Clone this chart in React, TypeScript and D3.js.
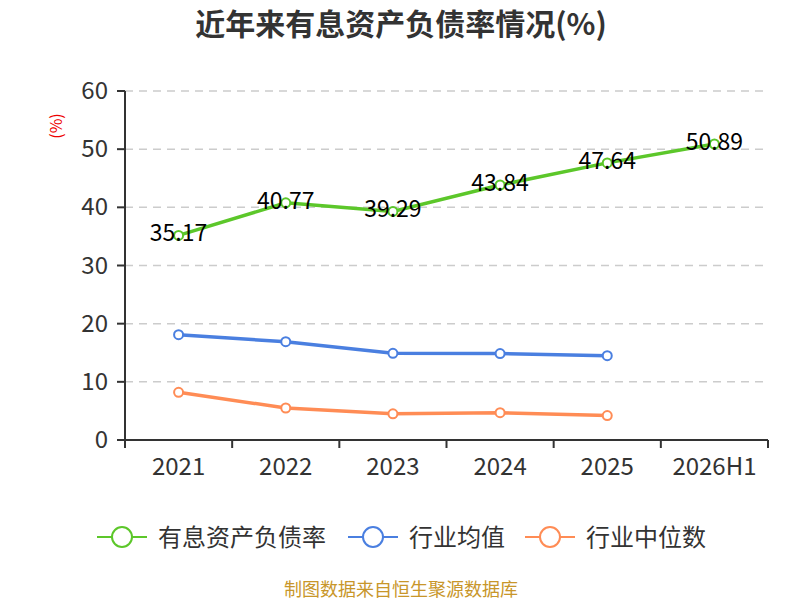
import React from "react";
import * as d3 from "d3";

const categories = ["2021", "2022", "2023", "2024", "2025", "2026H1"];
const debtRatio = [35.17, 40.77, 39.29, 43.84, 47.64, 50.89];
const industryMean = [18.1, 16.9, 14.9, 14.85, 14.5];
const industryMedian = [8.2, 5.5, 4.5, 4.7, 4.2];
const yTicks = [0, 10, 20, 30, 40, 50, 60];

const seriesNames = ["有息资产负债率", "行业均值", "行业中位数"];
const colors = ["#5cc72a", "#4a7fe0", "#ff8c55"];

const W = 800;
const H = 600;
const left = 125;
const right = 768;
const top = 91;
const bottom = 440;

export default function App() {
  const x = d3.scaleBand<string>().domain(categories).range([left, right]);
  const y = d3.scaleLinear().domain([0, 60]).range([bottom, top]);
  const cx = (i: number) => (x(categories[i]) ?? 0) + x.bandwidth() / 2;
  const line = d3
    .line<number>()
    .x((_, i) => cx(i))
    .y((d) => y(d));

  const series = [debtRatio, industryMean, industryMedian];
  const font = "'Noto Sans CJK SC', 'Noto Sans', sans-serif";

  // legend item start x
  const legendX = [97, 348, 525];

  return (
    <svg width={W} height={H} style={{ position: "absolute", left: 0, top: 0 }} fontFamily={font}>
      <rect width={W} height={H} fill="#fff" />
      <text x={401} y={35} textAnchor="middle" fontSize={30} fontWeight="bold" fill="#333">
        近年来有息资产负债率情况(%)
      </text>
      <text
        transform={`translate(62,126) rotate(-90)`}
        textAnchor="middle"
        fontSize={16}
        fill="#e00"
      >
        (%)
      </text>

      {yTicks.map((t) => (
        <g key={t}>
          {t > 0 && (
            <line x1={left} x2={right} y1={y(t)} y2={y(t)} stroke="#ccc" strokeDasharray="8,6" strokeWidth={1.5} />
          )}
          <line x1={left - 8} x2={left} y1={y(t)} y2={y(t)} stroke="#333" strokeWidth={2} />
          <text x={left - 17} y={y(t) + 8} textAnchor="end" fontSize={24} fill="#333">
            {t}
          </text>
        </g>
      ))}
      <line x1={left} x2={left} y1={top} y2={bottom} stroke="#333" strokeWidth={2} />
      <line x1={left} x2={right} y1={bottom} y2={bottom} stroke="#333" strokeWidth={2} />
      {categories.map((c, i) => (
        <g key={c}>
          <line x1={x(c)} x2={x(c)} y1={bottom} y2={bottom + 8} stroke="#333" strokeWidth={2} />
          {i === categories.length - 1 && (
            <line x1={right} x2={right} y1={bottom} y2={bottom + 8} stroke="#333" strokeWidth={2} />
          )}
          <text x={cx(i)} y={bottom + 35} textAnchor="middle" fontSize={24} fill="#333">
            {c}
          </text>
        </g>
      ))}

      {series.map((s, si) => (
        <g key={si}>
          <path d={line(s) ?? ""} fill="none" stroke={colors[si]} strokeWidth={3.5} />
          {s.map((v, i) => (
            <circle key={i} cx={cx(i)} cy={y(v)} r={4.5} fill="#fff" stroke={colors[si]} strokeWidth={2} />
          ))}
        </g>
      ))}

      {debtRatio.map((v, i) => (
        <text key={i} x={cx(i)} y={y(v) + 6} textAnchor="middle" fontSize={23} fill="#000">
          {v.toFixed(2)}
        </text>
      ))}

      {seriesNames.map((n, i) => (
        <g key={n} transform={`translate(${legendX[i]},537)`}>
          <line x1={0} x2={50} y1={0} y2={0} stroke={colors[i]} strokeWidth={2} />
          <circle cx={25} cy={0} r={10} fill="#fff" stroke={colors[i]} strokeWidth={2} />
          <text x={61} y={9} fontSize={24} fill="#333">
            {n}
          </text>
        </g>
      ))}

      <text x={401} y={596} textAnchor="middle" fontSize={18} fill="#c8962a">
        制图数据来自恒生聚源数据库
      </text>
    </svg>
  );
}
